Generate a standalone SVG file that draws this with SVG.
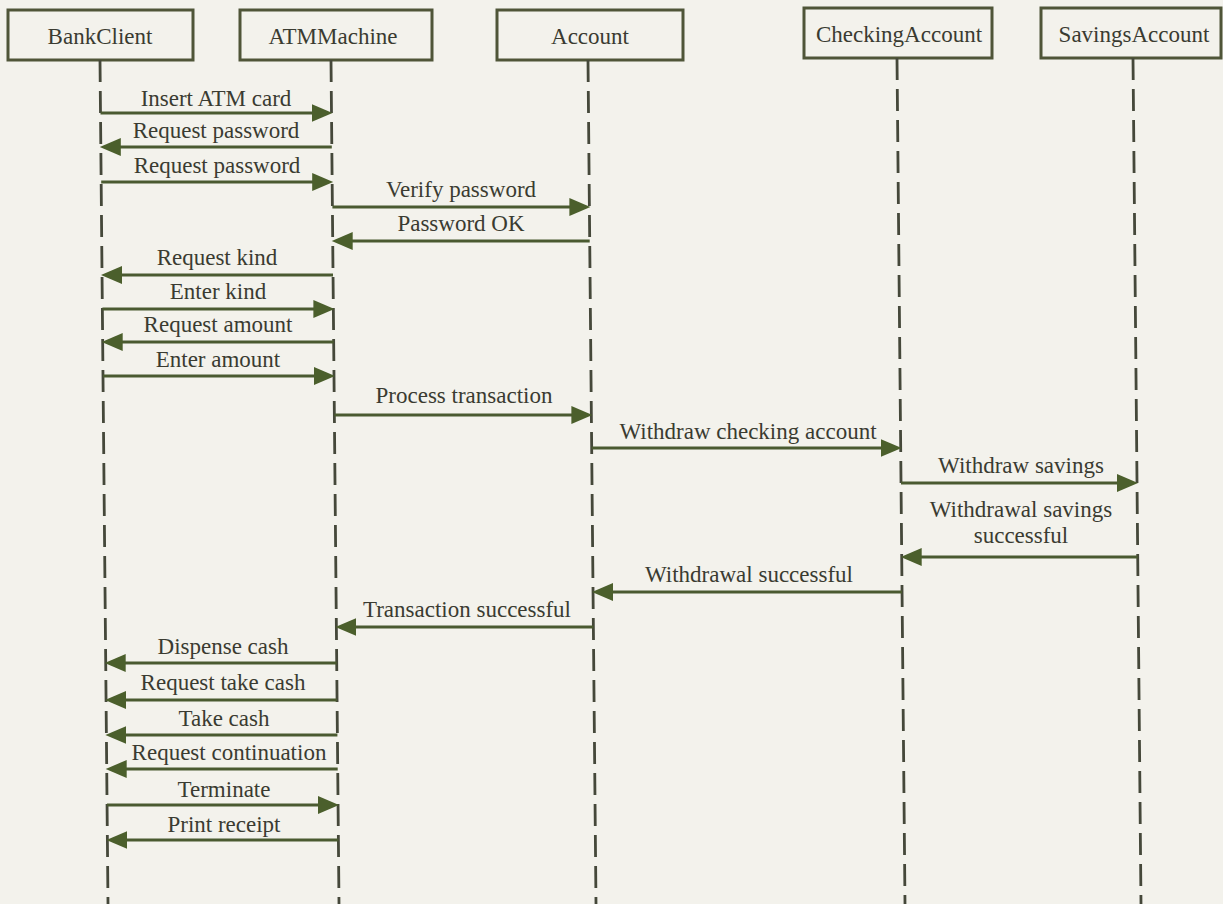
<svg xmlns="http://www.w3.org/2000/svg" width="1223" height="904" viewBox="0 0 1223 904">
  <style>
    .bg { fill: #f3f2ec; }
    .box { fill: #f3f2ec; stroke: #4f5538; stroke-width: 3; }
    .name { font-family: "Liberation Serif", "Times New Roman", serif; font-size: 23px; fill: #3a3b31; text-anchor: middle; }
    .life { stroke: #45483a; stroke-width: 2.8; stroke-dasharray: 22 9; fill: none; }
    .msg { stroke: #4a5a30; stroke-width: 3; fill: none; marker-end: url(#head); }
    .lbl { font-family: "Liberation Serif", "Times New Roman", serif; font-size: 23px; fill: #3a3b31; text-anchor: middle; }
  </style>
  <defs>
    <marker id="head" markerUnits="userSpaceOnUse" markerWidth="22" markerHeight="19" refX="10" refY="9" orient="auto">
      <path d="M0,0 L21,9 L0,18 Z" fill="#4b5f2c"/>
    </marker>
  </defs>

  <rect class="bg" x="0" y="0" width="1223" height="904"/>

  <!-- participants with their lifelines -->
  <g id="bankclient">
    <rect class="box" x="8" y="10" width="185" height="50"/>
    <text class="name" x="100" y="44">BankClient</text>
    <line class="life" x1="100" y1="60" x2="108" y2="904"/>
  </g>
  <g id="atmmachine">
    <rect class="box" x="240" y="10" width="192" height="50"/>
    <text class="name" x="333" y="44">ATMMachine</text>
    <line class="life" x1="331" y1="60" x2="339" y2="904"/>
  </g>
  <g id="account">
    <rect class="box" x="497" y="10" width="186" height="50"/>
    <text class="name" x="590" y="44">Account</text>
    <line class="life" x1="588" y1="60" x2="596" y2="904"/>
  </g>
  <g id="checkingaccount">
    <rect class="box" x="804" y="8" width="188" height="50"/>
    <text class="name" x="899" y="42">CheckingAccount</text>
    <line class="life" x1="897" y1="58" x2="905" y2="904"/>
  </g>
  <g id="savingsaccount">
    <rect class="box" x="1041" y="8" width="180" height="50"/>
    <text class="name" x="1134" y="42">SavingsAccount</text>
    <line class="life" x1="1133" y1="58" x2="1141" y2="904"/>
  </g>

  <!-- messages -->
  <g id="messages">
    <line class="msg" x1="100.5" y1="113" x2="321.5" y2="113"/>
    <text class="lbl" x="216" y="106">Insert ATM card</text>

    <line class="msg" x1="331.8" y1="147" x2="110.8" y2="147"/>
    <text class="lbl" x="216" y="138">Request password</text>

    <line class="msg" x1="101.2" y1="182" x2="322.2" y2="182"/>
    <text class="lbl" x="217" y="173">Request password</text>

    <line class="msg" x1="332.4" y1="207" x2="579.4" y2="207"/>
    <text class="lbl" x="461" y="197">Verify password</text>

    <line class="msg" x1="589.7" y1="241" x2="342.7" y2="241"/>
    <text class="lbl" x="461" y="231">Password OK</text>

    <line class="msg" x1="333" y1="275" x2="112" y2="275"/>
    <text class="lbl" x="217" y="265">Request kind</text>

    <line class="msg" x1="102.4" y1="309" x2="323.4" y2="309"/>
    <text class="lbl" x="218" y="299">Enter kind</text>

    <line class="msg" x1="333.7" y1="342" x2="112.7" y2="342"/>
    <text class="lbl" x="218" y="332">Request amount</text>

    <line class="msg" x1="103" y1="376" x2="324" y2="376"/>
    <text class="lbl" x="218" y="367">Enter amount</text>

    <line class="msg" x1="334.4" y1="415" x2="581.4" y2="415"/>
    <text class="lbl" x="464" y="403">Process transaction</text>

    <line class="msg" x1="591.7" y1="448" x2="890.7" y2="448"/>
    <text class="lbl" x="748" y="439">Withdraw checking account</text>

    <line class="msg" x1="901" y1="483" x2="1127" y2="483"/>
    <text class="lbl" x="1021" y="473">Withdraw savings</text>

    <line class="msg" x1="1137.7" y1="557" x2="911.7" y2="557"/>
    <text class="lbl" x="1021" y="517">Withdrawal savings</text>
    <text class="lbl" x="1021" y="543">successful</text>

    <line class="msg" x1="902" y1="592" x2="603" y2="592"/>
    <text class="lbl" x="749" y="582">Withdrawal successful</text>

    <line class="msg" x1="593.4" y1="627" x2="346.4" y2="627"/>
    <text class="lbl" x="467" y="617">Transaction successful</text>

    <line class="msg" x1="336.7" y1="663" x2="115.7" y2="663"/>
    <text class="lbl" x="223" y="654">Dispense cash</text>

    <line class="msg" x1="337" y1="700" x2="116" y2="700"/>
    <text class="lbl" x="223" y="690">Request take cash</text>

    <line class="msg" x1="337.4" y1="735" x2="116.4" y2="735"/>
    <text class="lbl" x="224" y="726">Take cash</text>

    <line class="msg" x1="337.7" y1="769" x2="116.7" y2="769"/>
    <text class="lbl" x="229" y="760">Request continuation</text>

    <line class="msg" x1="107" y1="805" x2="328" y2="805"/>
    <text class="lbl" x="224" y="797">Terminate</text>

    <line class="msg" x1="338.4" y1="840" x2="117.4" y2="840"/>
    <text class="lbl" x="224" y="832">Print receipt</text>
  </g>
</svg>
